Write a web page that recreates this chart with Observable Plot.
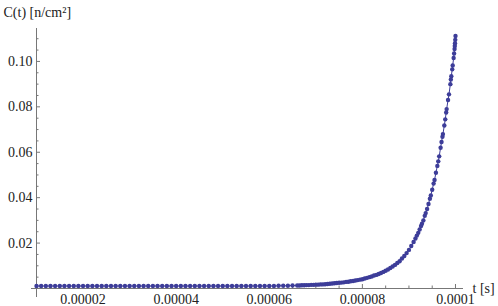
<!DOCTYPE html>
<html><head><meta charset="utf-8">
<script src="https://cdn.jsdelivr.net/npm/d3@7"></script>
<script src="https://cdn.jsdelivr.net/npm/@observablehq/plot@0.6"></script>
<style>body{margin:0;background:#fff} svg text{font-family:"Liberation Serif",serif !important;}</style>
</head><body><div id="chart"></div>
<script>
// time in microseconds, C(t) in n/cm^2
const tFlat = [10,11,12,13,14,15,16,17,18,19,20,21,22,23,24,25,26,27,28,29,30,31,32,33,34,35,36,37,38,39,40,41,42,43,44,45,46,47,48,49,50,51,52,53,54,55,56,57,58,59,60,61,62,63,64,65];
const cFlat = [0.0011,0.0011,0.0011,0.0011,0.0011,0.0011,0.0011,0.0011,0.0011,0.0011,0.0011,0.0011,0.0011,0.0011,0.0011,0.0011,0.0011,0.0011,0.0011,0.0011,0.0011,0.0011,0.0011,0.0011,0.0011,0.0011,0.0011,0.0011,0.0011,0.0011,0.0011,0.0011,0.0011,0.0011,0.0011,0.0011,0.0011,0.0011,0.0011,0.0011,0.0011,0.0011,0.0011,0.0011,0.0011,0.0011,0.0011,0.0011,0.0011,0.0011,0.0011,0.0011,0.0012,0.0012,0.0012,0.0013];
const tRise = [66,66.5,67,67.5,68,68.5,69,69.5,70,70.5,71,71.5,72,72.5,73,73.5,74,74.5,75,75.5,76,76.5,77,77.5,78,78.5,79,79.5,80,80.5,81,81.5,82,82.5,83,83.5,84,84.5,85,85.5,86,86.5,87,87.5,88,88.5,89,89.5,90,90.5];
const cRise = [0.0013,0.0013,0.0014,0.0014,0.0015,0.0015,0.0016,0.0016,0.0017,0.0017,0.0018,0.0018,0.0019,0.0020,0.0021,0.0022,0.0023,0.0024,0.0025,0.0026,0.0027,0.0029,0.0030,0.0032,0.0033,0.0035,0.0037,0.0039,0.0041,0.0044,0.0047,0.0050,0.0053,0.0057,0.0060,0.0064,0.0068,0.0073,0.0078,0.0084,0.0090,0.0097,0.0104,0.0112,0.0120,0.0132,0.0143,0.0156,0.0170,0.0187];
const tSteep = [91,91.4,91.7,92,92.3,92.6,92.8,93.1,93.4,93.6,93.9,94.2,94.5,94.7,95,95.3,95.5,95.8,96.1,96.3,96.5,96.8,97,97.2,97.3,97.6,97.8,98,98.1,98.4,98.6,98.9,99,99.1,99.3,99.4,99.6,99.7,99.8,99.85,99.9,99.95,100];
const cSteep = [0.0205,0.0220,0.0233,0.0245,0.0260,0.0275,0.0285,0.0300,0.0320,0.0332,0.0350,0.0372,0.0395,0.0410,0.0435,0.0462,0.0478,0.0510,0.0540,0.0560,0.0582,0.0620,0.0645,0.0668,0.0680,0.0718,0.0745,0.0775,0.0790,0.0830,0.0855,0.0900,0.0920,0.0935,0.0965,0.0982,0.1015,0.1035,0.1055,0.1068,0.1080,0.1095,0.1112];

const xTickValues = [0.00002,0.00004,0.00006,0.00008,0.0001];
const xTickLabels = ["0.00002","0.00004","0.00006","0.00008","0.0001"];
const xMinorTicks = [0.000015,0.000025,0.00003,0.000035,0.000045,0.00005,0.000055,0.000065,0.00007,0.000075,0.000085,0.00009,0.000095];
const yTickValues = [0.02,0.04,0.06,0.08,0.10];
const yTickLabels = ["0.02","0.04","0.06","0.08","0.10"];
const yMinorTicks = [0.005,0.01,0.015,0.025,0.03,0.035,0.045,0.05,0.055,0.065,0.07,0.075,0.085,0.09,0.095,0.105,0.11];
const yTitle = "C(t) [n/cm²]";
const xTitle = "t [s]";

const tAll = tFlat.concat(tRise, tSteep);
const cAll = cFlat.concat(cRise, cSteep);
const data = tAll.map((t, i) => ({t: t * 1e-6, c: cAll[i]}));

const color = "rgb(61,61,153)";
const axisColor = "#777";
const textColor = "#222";
const serif = "Liberation Serif";
const W = 498, H = 306, mL = 36, mR = 35, mT = 28, mB = 18;
const fw = W - mL - mR, fh = H - mT - mB;

const chart = Plot.plot({
  width: W, height: H,
  marginLeft: mL, marginRight: mR, marginTop: mT, marginBottom: mB,
  x: {domain: [0.00001, 0.00010172], axis: null},
  y: {domain: [0, 0.1145], axis: null},
  style: {fontFamily: serif, fontSize: "14px", color: textColor, background: "#fff"},
  marks: [
    Plot.ruleY([0], {stroke: axisColor, insetLeft: -5}),
    Plot.ruleX([0.00001], {stroke: axisColor, insetBottom: -9}),
    Plot.tickX(xTickValues, {x: d => d, stroke: axisColor, insetTop: fh - 4}),
    Plot.tickX(xMinorTicks, {x: d => d, stroke: axisColor, insetTop: fh - 2.5}),
    Plot.tickY(yTickValues, {y: d => d, stroke: axisColor, insetRight: fw - 4}),
    Plot.tickY(yMinorTicks, {y: d => d, stroke: axisColor, insetRight: fw - 2.5}),
    Plot.text(xTickValues, {x: d => d, frameAnchor: "bottom", text: (d, i) => xTickLabels[i], lineAnchor: "top", dy: 6, fill: textColor, fontFamily: serif, fontSize: 14}),
    Plot.text(yTickValues, {y: d => d, frameAnchor: "left", text: (d, i) => yTickLabels[i], textAnchor: "end", dx: -4, fill: textColor, fontFamily: serif, fontSize: 14}),
    Plot.text([yTitle], {frameAnchor: "top-left", text: d => d, textAnchor: "start", lineAnchor: "middle", dx: -33, dy: -15.5, fill: textColor, fontFamily: serif, fontSize: 14}),
    Plot.text([xTitle], {frameAnchor: "bottom-right", text: d => d, textAnchor: "start", lineAnchor: "middle", dx: 9, fill: textColor, fontFamily: serif, fontSize: 14}),
    Plot.line(data, {x: "t", y: "c", stroke: color, strokeWidth: 1}),
    Plot.dot(data, {x: "t", y: "c", r: 2.2, fill: color, stroke: "none"})
  ]
});
document.getElementById("chart").appendChild(chart);
</script>
</body></html>
